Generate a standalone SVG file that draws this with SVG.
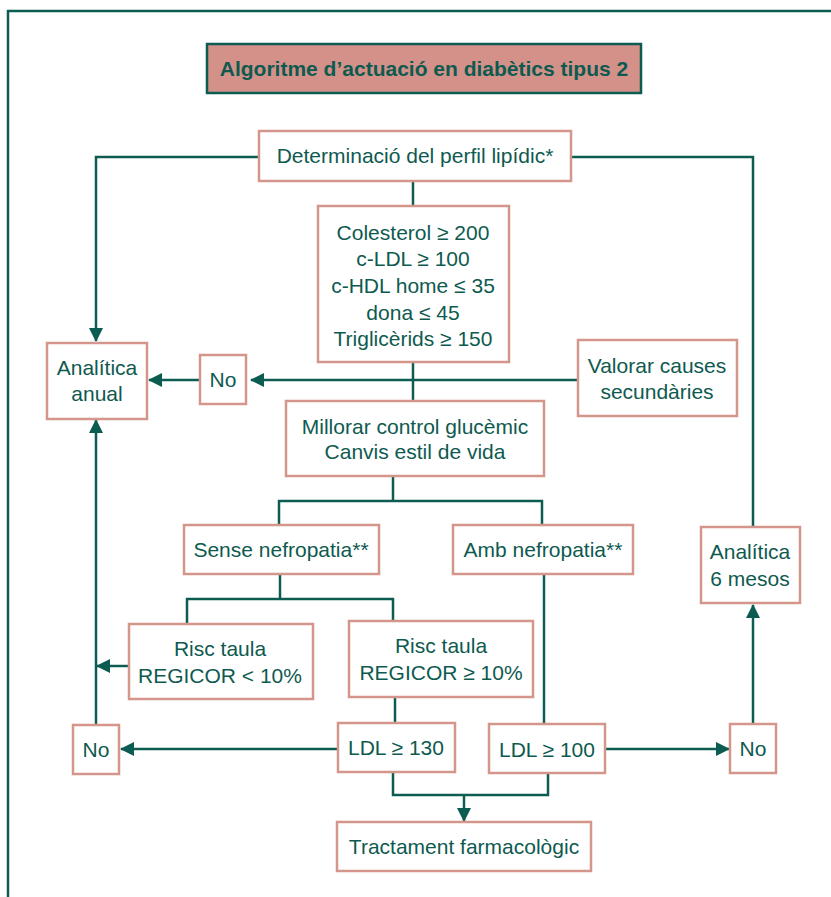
<svg xmlns="http://www.w3.org/2000/svg" width="831" height="897" viewBox="0 0 831 897">
<defs>
<style>
.box{fill:#fff;stroke:#d4958b;stroke-width:2.5}
.ln{fill:none;stroke:#0d5c52;stroke-width:2.5}
.t{font-family:"Liberation Sans",Arial,sans-serif;font-size:21px;fill:#0e5a4f;text-anchor:middle}
.title{font-family:"Liberation Sans",Arial,sans-serif;font-size:21px;font-weight:bold;fill:#0e5a4f;text-anchor:middle}
</style>
<marker id="ah" markerUnits="userSpaceOnUse" markerWidth="14" markerHeight="14" refX="13" refY="7" orient="auto">
<path d="M0,0 L14,7 L0,14 z" fill="#0d5c52"/>
</marker>
</defs>
<rect width="831" height="897" fill="#fff"/>
<path d="M8,897 V11 H831" fill="none" stroke="#0d5c52" stroke-width="2.5"/>
<g id="connectors">
<polyline class="ln" points="259,157 96,157 96,341" marker-end="url(#ah)"/>
<polyline class="ln" points="571,157 753,157 753,527"/>
<line class="ln" x1="413" y1="181" x2="413" y2="206"/>
<line class="ln" x1="413" y1="362" x2="413" y2="401"/>
<line class="ln" x1="577" y1="380" x2="251" y2="380" marker-end="url(#ah)"/>
<line class="ln" x1="200" y1="380" x2="149" y2="380" marker-end="url(#ah)"/>
<line class="ln" x1="393" y1="476" x2="393" y2="501"/>
<polyline class="ln" points="279,525 279,501 542,501 542,525"/>
<line class="ln" x1="280" y1="574" x2="280" y2="599"/>
<polyline class="ln" points="187,623 187,599 393,599 393,621"/>
<line class="ln" x1="129" y1="666" x2="97" y2="666" marker-end="url(#ah)"/>
<line class="ln" x1="395" y1="697" x2="395" y2="723"/>
<line class="ln" x1="544" y1="574" x2="544" y2="724"/>
<line class="ln" x1="338" y1="749" x2="121" y2="749" marker-end="url(#ah)"/>
<line class="ln" x1="96" y1="725" x2="96" y2="420" marker-end="url(#ah)"/>
<line class="ln" x1="605" y1="749" x2="729" y2="749" marker-end="url(#ah)"/>
<line class="ln" x1="753" y1="724" x2="753" y2="605" marker-end="url(#ah)"/>
<polyline class="ln" points="393,772 393,795 548,795 548,773"/>
<line class="ln" x1="464" y1="795" x2="464" y2="821" marker-end="url(#ah)"/>
</g>
<g id="title">
<rect x="207" y="44" width="434" height="49" fill="#d4918a" stroke="#0d5c52" stroke-width="2.5"/>
<text class="title" x="424" y="76">Algoritme d’actuació en diabètics tipus 2</text>
</g>
<g id="perfil">
<rect class="box" x="259" y="131" width="312" height="50"/>
<text class="t" x="415" y="163">Determinació del perfil lipídic*</text>
</g>
<g id="criteris">
<rect class="box" x="318" y="206" width="191" height="156"/>
<text class="t" x="413" y="240">Colesterol ≥ 200</text>
<text class="t" x="413" y="266">c-LDL ≥ 100</text>
<text class="t" x="413" y="293">c-HDL home ≤ 35</text>
<text class="t" x="413" y="320">dona ≤ 45</text>
<text class="t" x="413" y="346">Triglicèrids ≥ 150</text>
</g>
<g id="analitica-anual">
<rect class="box" x="47" y="343" width="100" height="76"/>
<text class="t" x="97" y="375">Analítica</text>
<text class="t" x="97" y="401">anual</text>
</g>
<g id="no1">
<rect class="box" x="200" y="355" width="46" height="49"/>
<text class="t" x="223" y="387">No</text>
</g>
<g id="valorar">
<rect class="box" x="578" y="340" width="159" height="76"/>
<text class="t" x="657" y="373">Valorar causes</text>
<text class="t" x="657" y="399">secundàries</text>
</g>
<g id="millorar">
<rect class="box" x="286" y="401" width="258" height="75"/>
<text class="t" x="415" y="434">Millorar control glucèmic</text>
<text class="t" x="415" y="459">Canvis estil de vida</text>
</g>
<g id="sense">
<rect class="box" x="184" y="525" width="195" height="49"/>
<text class="t" x="281" y="557">Sense nefropatia**</text>
</g>
<g id="amb">
<rect class="box" x="453" y="525" width="180" height="49"/>
<text class="t" x="543" y="557">Amb nefropatia**</text>
</g>
<g id="analitica-6">
<rect class="box" x="701" y="527" width="99" height="76"/>
<text class="t" x="750" y="559">Analítica</text>
<text class="t" x="750" y="586">6 mesos</text>
</g>
<g id="risc-menor">
<rect class="box" x="129" y="624" width="184" height="75"/>
<text class="t" x="220" y="656">Risc taula</text>
<text class="t" x="220" y="683">REGICOR &lt; 10%</text>
</g>
<g id="risc-major">
<rect class="box" x="349" y="621" width="184" height="76"/>
<text class="t" x="441" y="653">Risc taula</text>
<text class="t" x="441" y="680">REGICOR ≥ 10%</text>
</g>
<g id="no2">
<rect class="box" x="73" y="725" width="46" height="49"/>
<text class="t" x="96" y="757">No</text>
</g>
<g id="ldl130">
<rect class="box" x="338" y="723" width="117" height="49"/>
<text class="t" x="396" y="755">LDL ≥ 130</text>
</g>
<g id="ldl100">
<rect class="box" x="489" y="724" width="116" height="49"/>
<text class="t" x="547" y="757">LDL ≥ 100</text>
</g>
<g id="no3">
<rect class="box" x="730" y="724" width="46" height="49"/>
<text class="t" x="753" y="756">No</text>
</g>
<g id="tractament">
<rect class="box" x="337" y="822" width="254" height="49"/>
<text class="t" x="464" y="854">Tractament farmacològic</text>
</g>
</svg>
